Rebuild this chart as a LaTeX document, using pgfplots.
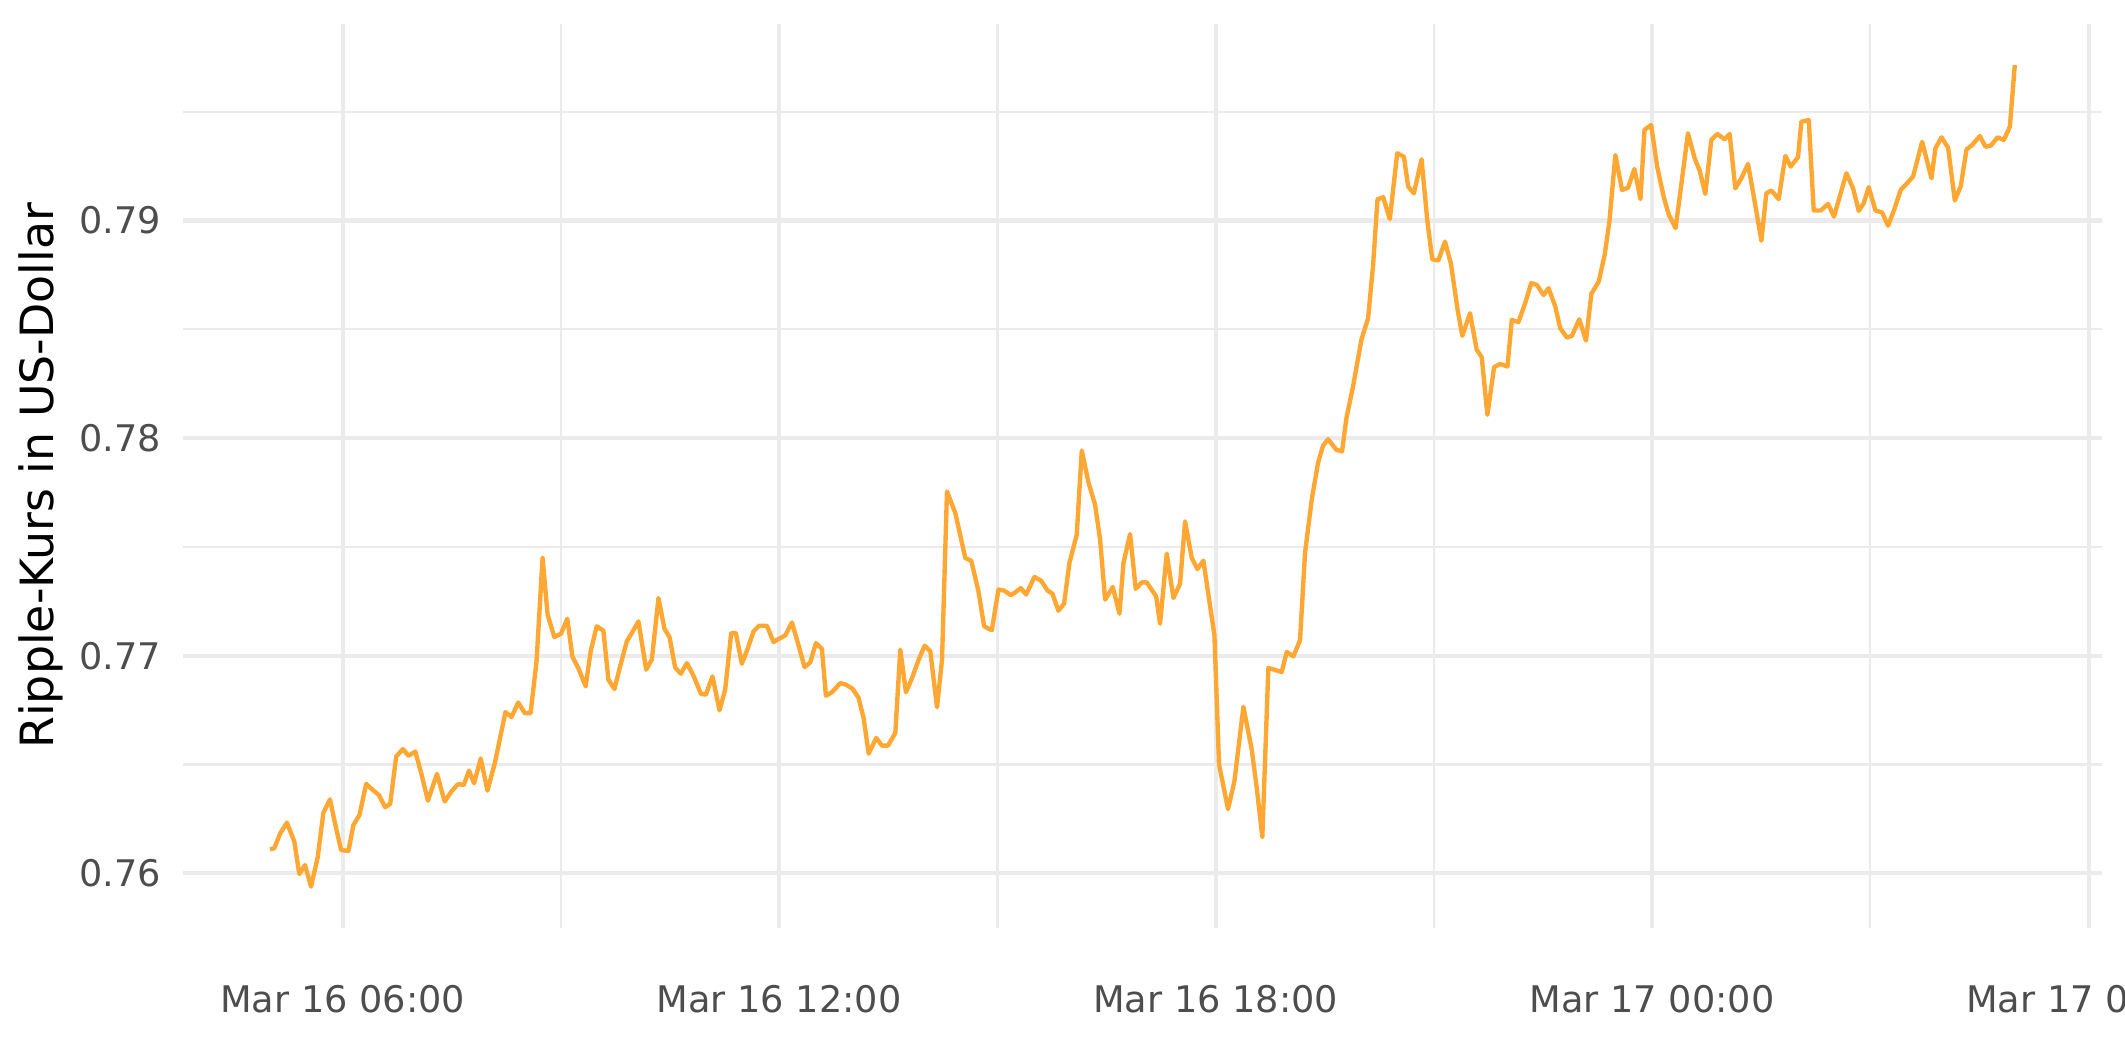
\documentclass[border=0pt]{standalone}
\usepackage{fontspec}
\setmainfont{DejaVu Sans}
\usepackage{pgfplots}
\pgfplotsset{compat=1.18}
\definecolor{gridgray}{HTML}{EBEBEB}
\definecolor{ticktext}{HTML}{4D4D4D}
\definecolor{lineorange}{RGB}{255,167,51}
\begin{document}
\begin{tikzpicture}
\path[use as bounding box] (-43.85pt,-32.23pt) rectangle (466.15pt,222.65pt);
\begin{axis}[
  scale only axis,
  width=460.56pt, height=216.89pt,
  xmin=3.8, xmax=30.18,
  ymin=0.75750, ymax=0.79903,
  axis line style={draw=none},
  major tick length=0pt, minor tick length=0pt,
  xtick={6,12,18,24,30},
  xticklabels={Mar 16 06:00,Mar 16 12:00,Mar 16 18:00,Mar 17 00:00,Mar 17 06:00},
  minor xtick={9,15,21,27},
  ytick={0.76,0.77,0.78,0.79},
  yticklabels={0.76,0.77,0.78,0.79},
  minor ytick={0.765,0.775,0.785,0.795},
  grid=both,
  major grid style={color=gridgray, line width=1.0pt},
  minor grid style={color=gridgray, line width=0.5pt},
  xticklabel style={font=\fontsize{8.8pt}{10pt}\selectfont, text=ticktext, anchor=north, inner sep=0pt, yshift=-13.6pt},
  yticklabel style={font=\fontsize{8.8pt}{10pt}\selectfont, text=ticktext, anchor=east, inner sep=0pt, xshift=-4.95pt},
  every axis y label/.style={at={(axis description cs:-0.0740,0.5)}, rotate=90, anchor=center, font=\fontsize{11pt}{13pt}\selectfont, text=black},
  ylabel={Ripple-Kurs in US-Dollar},
  clip=false,
]
\addplot[color=lineorange, line width=1.05pt, line join=round, mark=none] coordinates {
(5.000,0.76110) (5.058,0.76115) (5.141,0.76184) (5.233,0.76233) (5.334,0.76146)
(5.403,0.75997) (5.481,0.76038) (5.564,0.75939) (5.656,0.76074) (5.734,0.76279)
(5.825,0.76340) (5.899,0.76222) (5.977,0.76107) (6.078,0.76103) (6.147,0.76222)
(6.230,0.76268) (6.322,0.76411) (6.400,0.76387) (6.496,0.76360) (6.583,0.76304)
(6.652,0.76319) (6.735,0.76537) (6.827,0.76571) (6.905,0.76540) (6.997,0.76560)
(7.079,0.76460) (7.171,0.76334) (7.295,0.76457) (7.401,0.76330) (7.493,0.76376)
(7.585,0.76410) (7.663,0.76406) (7.736,0.76472) (7.805,0.76414) (7.897,0.76528)
(7.989,0.76380) (8.090,0.76506) (8.237,0.76741) (8.320,0.76718) (8.412,0.76785)
(8.503,0.76736) (8.582,0.76736) (8.664,0.76974) (8.747,0.77449) (8.816,0.77189)
(8.908,0.77086) (9.000,0.77101) (9.087,0.77170) (9.156,0.76997) (9.238,0.76943)
(9.339,0.76859) (9.408,0.77020) (9.491,0.77135) (9.583,0.77115) (9.652,0.76890)
(9.735,0.76847) (9.813,0.76951)
(9.905,0.77066) (9.973,0.77104) (10.065,0.77158) (10.171,0.76936) (10.249,0.76982)
(10.340,0.77265) (10.423,0.77123) (10.492,0.77086) (10.569,0.76946) (10.647,0.76917)
(10.730,0.76966) (10.822,0.76908) (10.923,0.76825) (10.991,0.76821) (11.083,0.76905)
(11.179,0.76749) (11.257,0.76844) (11.340,0.77104) (11.404,0.77104) (11.486,0.76963)
(11.569,0.77035) (11.647,0.77112) (11.725,0.77138) (11.830,0.77138) (11.922,0.77063)
(12.014,0.77081) (12.083,0.77093) (12.174,0.77153) (12.257,0.77058) (12.348,0.76948)
(12.426,0.76969) (12.504,0.77058) (12.587,0.77032) (12.642,0.76816) (12.724,0.76832)
(12.839,0.76874) (12.917,0.76867) (13.009,0.76848) (13.091,0.76806) (13.160,0.76714)
(13.229,0.76550) (13.334,0.76622) (13.412,0.76587) (13.495,0.76587) (13.596,0.76645)
(13.664,0.77028) (13.742,0.76832) (13.825,0.76897) (13.917,0.76982) (13.999,0.77046)
(14.077,0.77020) (14.169,0.76763) (14.238,0.76982) (14.306,0.77755) (14.421,0.77655)
(14.558,0.77449) (14.640,0.77436)
(14.739,0.77296) (14.817,0.77135) (14.922,0.77117) (15.014,0.77304) (15.096,0.77299)
(15.183,0.77278) (15.243,0.77291) (15.321,0.77311) (15.394,0.77281) (15.508,0.77362)
(15.600,0.77345) (15.687,0.77300) (15.756,0.77285) (15.838,0.77207) (15.916,0.77239)
(15.989,0.77426) (16.090,0.77556) (16.159,0.77943) (16.251,0.77796) (16.342,0.77694)
(16.411,0.77533) (16.480,0.77258) (16.585,0.77316) (16.677,0.77193) (16.732,0.77426)
(16.823,0.77559) (16.901,0.77307) (16.984,0.77337) (17.052,0.77337) (17.181,0.77273)
(17.235,0.77147) (17.327,0.77469) (17.419,0.77265) (17.510,0.77331) (17.579,0.77617)
(17.671,0.77449) (17.749,0.77398) (17.831,0.77437) (17.913,0.77250) (17.982,0.77097)
(18.046,0.76500) (18.170,0.76295) (18.257,0.76423) (18.381,0.76765) (18.495,0.76569)
(18.564,0.76393) (18.641,0.76168) (18.724,0.76944) (18.907,0.76925) (18.976,0.77017)
(19.068,0.76997) (19.159,0.77071) (19.228,0.77472) (19.320,0.77717)
(19.406,0.77885) (19.475,0.77965) (19.544,0.77995) (19.659,0.77946) (19.737,0.77939)
(19.797,0.78092) (19.888,0.78237) (20.003,0.78452) (20.095,0.78551) (20.164,0.78796)
(20.224,0.79097) (20.302,0.79107) (20.394,0.79006) (20.495,0.79309) (20.587,0.79293)
(20.646,0.79156) (20.724,0.79125) (20.830,0.79281) (20.908,0.79003) (20.977,0.78822)
(21.060,0.78816) (21.152,0.78903) (21.234,0.78801) (21.326,0.78589) (21.390,0.78470)
(21.496,0.78574) (21.588,0.78406) (21.657,0.78372) (21.735,0.78107) (21.827,0.78326)
(21.910,0.78341) (22.011,0.78329) (22.070,0.78543) (22.162,0.78533) (22.254,0.78620)
(22.337,0.78712) (22.415,0.78704) (22.507,0.78658) (22.576,0.78689) (22.668,0.78605)
(22.736,0.78505) (22.828,0.78462) (22.897,0.78470) (22.998,0.78546) (23.090,0.78448)
(23.164,0.78663) (23.265,0.78719) (23.347,0.78842) (23.412,0.78995) (23.494,0.79301)
(23.586,0.79140) (23.669,0.79151) (23.756,0.79237) (23.839,0.79098) (23.894,0.79416)
(23.986,0.79439) (24.069,0.79247) (24.160,0.79107) (24.229,0.79026)
(24.322,0.78965) (24.400,0.79164) (24.492,0.79401) (24.584,0.79286) (24.653,0.79229)
(24.730,0.79122) (24.813,0.79370) (24.895,0.79398) (24.996,0.79373) (25.065,0.79398)
(25.143,0.79148) (25.226,0.79194) (25.317,0.79260) (25.409,0.79087) (25.501,0.78907)
(25.569,0.79125) (25.638,0.79138) (25.739,0.79098) (25.831,0.79297) (25.904,0.79248)
(26.005,0.79291) (26.051,0.79454) (26.152,0.79462) (26.221,0.79046) (26.317,0.79046)
(26.418,0.79076) (26.500,0.79018) (26.578,0.79110) (26.670,0.79217) (26.762,0.79148)
(26.840,0.79044) (26.908,0.79080) (26.977,0.79153) (27.069,0.79046) (27.160,0.79037)
(27.243,0.78976) (27.326,0.79049) (27.417,0.79141) (27.495,0.79168) (27.587,0.79202)
(27.711,0.79362) (27.793,0.79255) (27.839,0.79194) (27.894,0.79332) (27.977,0.79382)
(28.068,0.79335) (28.160,0.79092) (28.243,0.79159) (28.321,0.79327) (28.398,0.79347)
(28.504,0.79388) (28.582,0.79339) (28.655,0.79344) (28.747,0.79382) (28.834,0.79370)
(28.917,0.79431) (28.985,0.79714)
};
\end{axis}
\end{tikzpicture}
\end{document}
